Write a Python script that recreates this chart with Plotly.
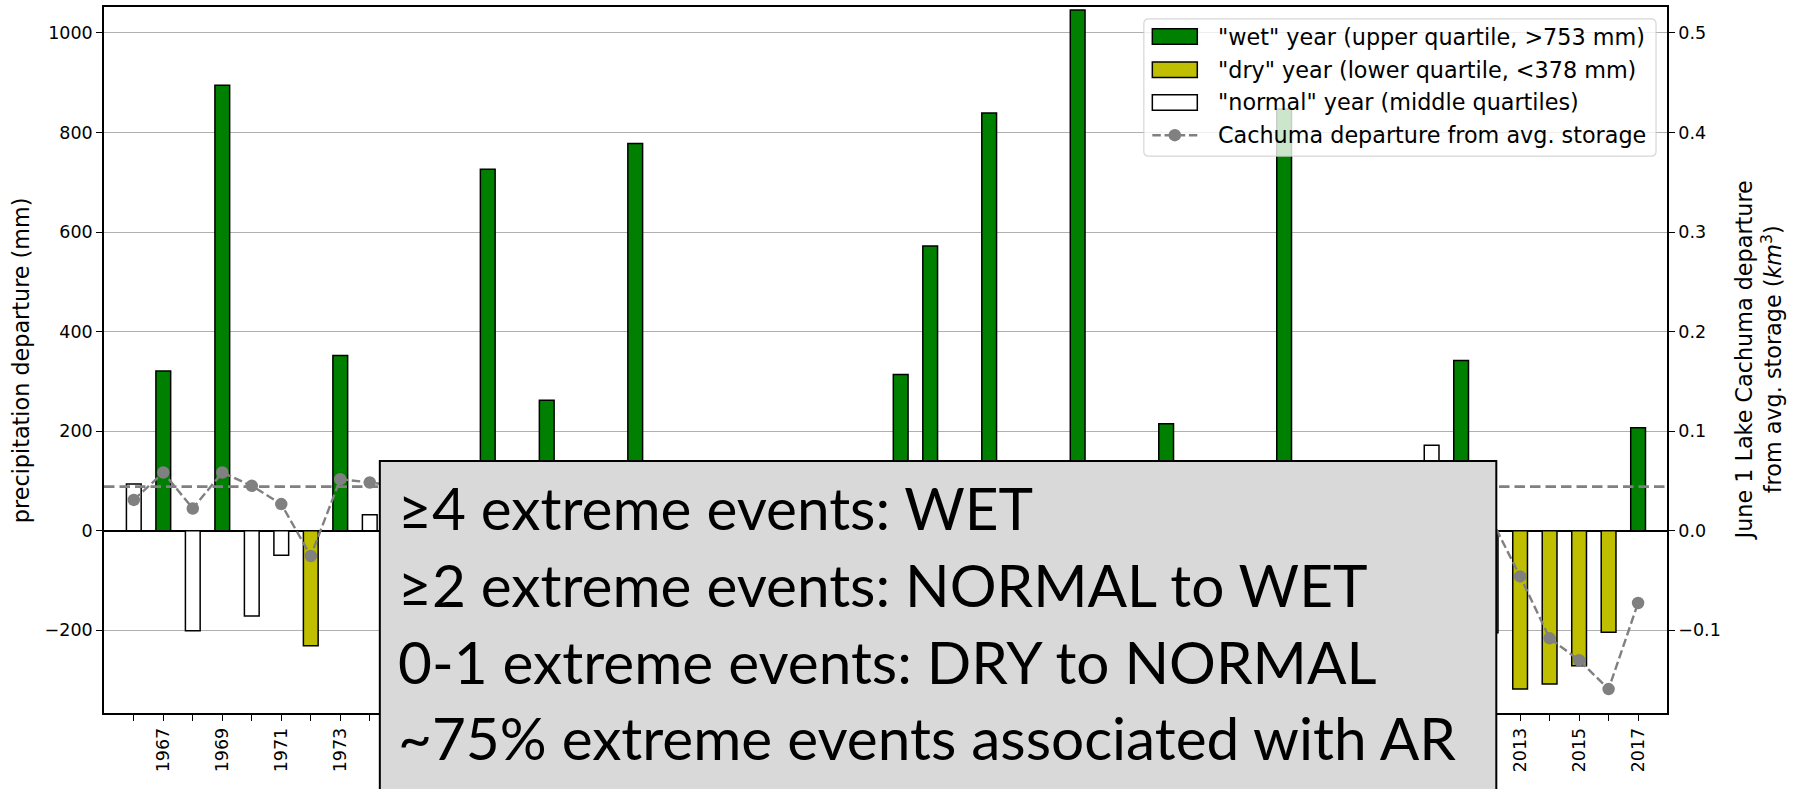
import plotly.graph_objects as go

# Water years shown on the x axis
years = list(range(1966, 2018))
labelled_years = [y for y in years if y % 2 == 1]

# Annual precipitation departure from average (mm)
precip_departure = [
    94, 321, -201, 895, -171, -49, -231, 352, 32, 40,
    -230, -250, 726, 110, 262, -150, 60, 778, -190, -160,
    90, -210, -120, -240, -280, 20, 314, 572, -140, 839,
    -60, 30, 1046, -180, 10, 215, -270, -40, -220, 847,
    50, -290, 70, -150, 172, 342, -205, -318, -308, -271,
    -204, 207,
]

# Year classification by precipitation quartile
year_class = [
    "normal", "wet", "normal", "wet", "normal", "normal", "dry", "wet", "normal", "normal",
    "dry", "dry", "wet", "normal", "wet", "normal", "normal", "wet", "normal", "normal",
    "normal", "dry", "normal", "dry", "dry", "normal", "wet", "wet", "normal", "wet",
    "normal", "normal", "wet", "normal", "normal", "wet", "dry", "normal", "dry", "wet",
    "normal", "dry", "normal", "normal", "normal", "wet", "dry", "dry", "dry", "dry",
    "dry", "wet",
]

# June 1 Lake Cachuma departure from average storage (km^3)
storage_departure = [
    0.031, 0.0585, 0.0224, 0.0585, 0.0451, 0.0268, -0.0253, 0.0518, 0.0485, 0.045,
    0.030, -0.010, 0.055, 0.050, 0.055, 0.040, 0.045, 0.058, 0.045, 0.020,
    0.030, 0.000, -0.020, -0.050, -0.090, -0.070, 0.020, 0.055, 0.040, 0.058,
    0.050, 0.050, 0.060, 0.050, 0.045, 0.055, 0.020, 0.030, -0.010, 0.058,
    0.055, 0.010, 0.040, 0.000, 0.030, 0.055, 0.013, -0.0458, -0.108, -0.130,
    -0.159, -0.0725,
]
storage_reference = 0.0443

class_labels = {
    "wet": '"wet" year (upper quartile, &gt;753 mm)',
    "dry": '"dry" year (lower quartile, &lt;378 mm)',
    "normal": '"normal" year (middle quartiles)',
}
line_label = "Cachuma departure from avg. storage"
class_colors = {"wet": "#008000", "dry": "#bfbf00", "normal": "#ffffff"}

notes = [
    "≥4 extreme events: WET",
    "≥2 extreme events: NORMAL to WET",
    "0-1 extreme events: DRY to NORMAL",
    "~75% extreme events associated with AR",
]

left_ticks = [-200, 0, 200, 400, 600, 800, 1000]
right_ticks = [-0.1, 0.0, 0.1, 0.2, 0.3, 0.4, 0.5]

# ---- geometry (pixels) ----
W, H = 1798, 789
L, R, T, B = 103.5, 1667.5, 6.7, 713.3


def px_x(px):
    return (px - L) / (R - L)


def px_y(py):
    return (B - py) / (B - T)


GRAY = "#808080"
TICK_FONT = dict(family="DejaVu Sans", size=17.5, color="black")
LABEL_FONT = dict(family="DejaVu Sans", size=22.3, color="black")
LINE_DASH = "8.5px,3.7px"

fig = go.Figure()

for cls in ["wet", "dry", "normal"]:
    xs = [y for y, c in zip(years, year_class) if c == cls]
    vs = [v for v, c in zip(precip_departure, year_class) if c == cls]
    fig.add_trace(go.Bar(
        x=xs, y=vs, width=0.5, name=class_labels[cls], showlegend=False,
        marker=dict(color=class_colors[cls], line=dict(color="black", width=1.5)),
        yaxis="y",
    ))

fig.add_trace(go.Scatter(
    x=years, y=storage_departure, yaxis="y2", mode="lines+markers",
    name=line_label, showlegend=False,
    line=dict(color=GRAY, width=2.4, dash=LINE_DASH),
    marker=dict(color=GRAY, size=12.5),
))

shapes = []
# average-storage reference line
shapes.append(dict(type="line", xref="paper", x0=0, x1=1, yref="y2",
                   y0=storage_reference, y1=storage_reference, layer="above",
                   line=dict(color=GRAY, width=2.6, dash="10.5px,5px")))

# annotation panel
shapes.append(dict(type="rect", xref="paper", yref="paper",
                   x0=px_x(379.5), x1=px_x(1496.7), y0=px_y(820), y1=px_y(461),
                   fillcolor="#d9d9d9", line=dict(color="black", width=2), layer="above"))

# legend frame with rounded corners
lx0, lx1, ly0, ly1, r = 1144, 1656.5, 18.5, 156, 5
def P(x, y):
    return f"{px_x(x):.6f},{px_y(y):.6f}"
legend_path = (
    f"M{P(lx0 + r, ly0)} L{P(lx1 - r, ly0)} Q{P(lx1, ly0)} {P(lx1, ly0 + r)} "
    f"L{P(lx1, ly1 - r)} Q{P(lx1, ly1)} {P(lx1 - r, ly1)} "
    f"L{P(lx0 + r, ly1)} Q{P(lx0, ly1)} {P(lx0, ly1 - r)} "
    f"L{P(lx0, ly0 + r)} Q{P(lx0, ly0)} {P(lx0 + r, ly0)} Z"
)
shapes.append(dict(type="path", xref="paper", yref="paper", path=legend_path,
                   fillcolor="rgba(255,255,255,0.8)",
                   line=dict(color="rgba(204,204,204,0.8)", width=1.2), layer="above"))

row_y = [36.3, 69.5, 102.2, 135.0]
hx0, hx1 = 1152.5, 1197.5
annotations = []
for i, cls in enumerate(["wet", "dry", "normal"]):
    shapes.append(dict(type="rect", xref="paper", yref="paper",
                       x0=px_x(hx0), x1=px_x(hx1), y0=px_y(row_y[i] + 7.8), y1=px_y(row_y[i] - 7.8),
                       fillcolor=class_colors[cls], line=dict(color="black", width=1.5), layer="above"))
    annotations.append(dict(xref="paper", yref="paper", x=px_x(1216.5), y=px_y(row_y[i]),
                            xanchor="left", yanchor="middle", showarrow=False,
                            text=class_labels[cls], font=LABEL_FONT))
shapes.append(dict(type="line", xref="paper", yref="paper",
                   x0=px_x(hx0), x1=px_x(hx1), y0=px_y(row_y[3]), y1=px_y(row_y[3]),
                   line=dict(color=GRAY, width=2.4, dash=LINE_DASH), layer="above"))
shapes.append(dict(type="circle", xref="paper", yref="paper",
                   x0=px_x(1168.75), x1=px_x(1181.25), y0=px_y(row_y[3] + 6.25), y1=px_y(row_y[3] - 6.25),
                   fillcolor=GRAY, line=dict(color=GRAY, width=0), layer="above"))
annotations.append(dict(xref="paper", yref="paper", x=px_x(1216.5), y=px_y(row_y[3]),
                        xanchor="left", yanchor="middle", showarrow=False,
                        text=line_label, font=LABEL_FONT))

# panel text
note_base = [530, 606.7, 683.3, 760]
for txt, yb in zip(notes, note_base):
    annotations.append(dict(xref="paper", yref="paper", x=px_x(396), y=px_y(yb - 22.5),
                            xanchor="left", yanchor="middle", showarrow=False,
                            text=txt, font=dict(family="Lato", size=58.5, color="black")))

# axis titles
annotations.append(dict(xref="paper", yref="paper", x=px_x(20.6), y=0.5,
                        xanchor="center", yanchor="middle", showarrow=False, textangle=-90,
                        text="precipitation departure (mm)", font=LABEL_FONT))
annotations.append(dict(xref="paper", yref="paper", x=px_x(1759), y=0.5,
                        xanchor="center", yanchor="middle", showarrow=False, textangle=-90,
                        text="June 1 Lake Cachuma departure<br>from avg. storage (<i>km</i><sup>3</sup>)",
                        font=LABEL_FONT))

fig.update_layout(
    width=W, height=H,
    margin=dict(l=L, r=W - R, t=T, b=H - B, autoexpand=False),
    paper_bgcolor="white", plot_bgcolor="white",
    barmode="overlay", showlegend=False,
    xaxis=dict(
        range=[1964.99, 2017.98], tickmode="array", tickvals=labelled_years,
        ticktext=[str(y) for y in labelled_years],
        tickangle=-90, ticks="outside", ticklen=6, tickwidth=1.2, tickcolor="black",
        minor=dict(tickmode="array", tickvals=years, ticks="outside", ticklen=6,
                   tickwidth=1.2, tickcolor="black", showgrid=False),
        showline=True, linecolor="black", linewidth=1.6, mirror=True,
        showgrid=False, zeroline=False, tickfont=TICK_FONT,
    ),
    yaxis=dict(
        range=[-366, 1052], tickmode="array", tickvals=left_ticks,
        ticktext=[f"{v:d}".replace("-", "\u2212") for v in left_ticks],
        ticks="outside", ticklen=6, tickwidth=1.2, tickcolor="black",
        showline=True, linecolor="black", linewidth=1.6, mirror=True,
        showgrid=True, gridcolor="#b0b0b0", gridwidth=1,
        zeroline=True, zerolinecolor="black", zerolinewidth=2.2, tickfont=TICK_FONT,
    ),
    yaxis2=dict(
        overlaying="y", side="right", range=[-0.183, 0.526],
        tickmode="array", tickvals=right_ticks,
        ticktext=[f"{v:.1f}".replace("-", "\u2212") for v in right_ticks],
        ticks="outside", ticklen=6, tickwidth=1.2, tickcolor="black",
        showline=True, linecolor="black", linewidth=1.6,
        showgrid=False, zeroline=False, tickfont=TICK_FONT,
    ),
    shapes=shapes, annotations=annotations,
)

fig.write_html("out.html")
